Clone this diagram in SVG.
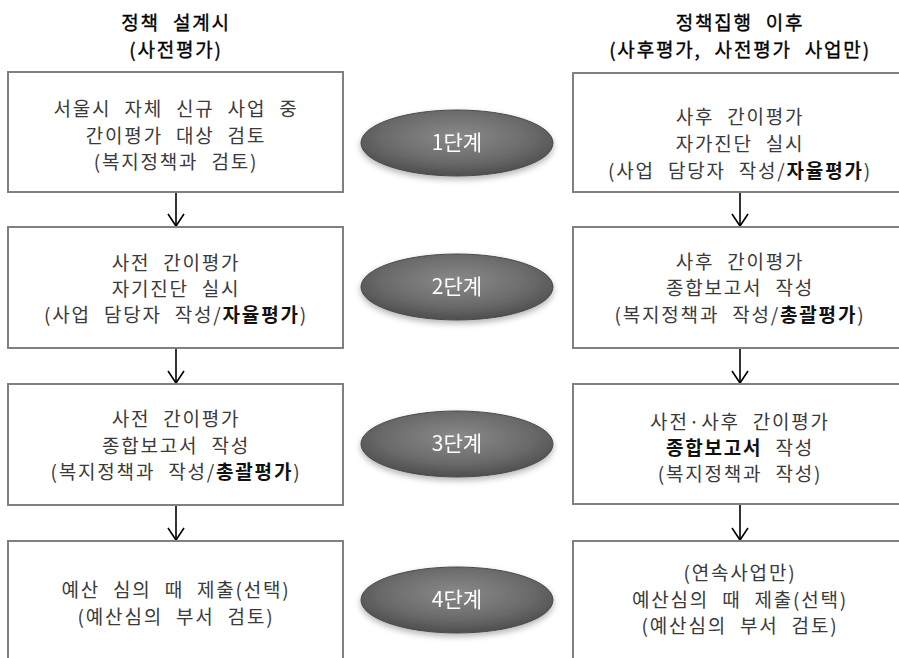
<svg xmlns="http://www.w3.org/2000/svg" width="899" height="658" viewBox="0 0 899 658">
<style>
.box{fill:#fff;stroke:#808080;stroke-width:2}
.t{font-family:"Noto Sans CJK KR","Noto Sans",sans-serif;font-size:19px;fill:#3a3a3a;text-anchor:middle;letter-spacing:1.8px;word-spacing:7px}
.h{font-family:"Noto Sans CJK KR","Noto Sans",sans-serif;font-size:19px;fill:#000;text-anchor:middle;letter-spacing:1.8px;word-spacing:7px;stroke:#000;stroke-width:0.35px}
.b{font-weight:bold;fill:#111}
.st{font-family:"Noto Sans CJK KR","Noto Sans",sans-serif;font-size:21px;fill:#fff;text-anchor:middle}
.el{fill:url(#eg);stroke:#4a4a4a;stroke-width:1}
.conn{stroke:#000;stroke-width:1.6;fill:none;marker-end:url(#ah)}
</style>
<defs>
<radialGradient id="eg" cx="50%" cy="40%" r="60%">
<stop offset="0" stop-color="#8a8a8a"/>
<stop offset="0.65" stop-color="#6a6a6a"/>
<stop offset="1" stop-color="#4e4e4e"/>
</radialGradient>
<marker id="ah" markerUnits="userSpaceOnUse" markerWidth="16" markerHeight="20" viewBox="-14 -10 16 20" refX="0" refY="0" orient="auto">
<path d="M-12,-8 L0,0 L-12,8" fill="none" stroke="#000" stroke-width="1.6"/>
</marker>
<filter id="sh" x="-10%" y="-20%" width="120%" height="150%">
<feGaussianBlur in="SourceAlpha" stdDeviation="3"/>
<feOffset dy="3"/>
<feComponentTransfer><feFuncA type="linear" slope="0.3"/></feComponentTransfer>
<feMerge><feMergeNode/><feMergeNode in="SourceGraphic"/></feMerge>
</filter>
</defs>
<rect width="899" height="658" fill="#fff"/>

<g id="header-left">
<text class="h" x="176" y="30">정책 설계시</text>
<text class="h" x="176" y="57">(사전평가)</text>
</g>
<g id="header-right">
<text class="h" x="740" y="30">정책집행 이후</text>
<text class="h" x="740" y="57">(사후평가, 사전평가 사업만)</text>
</g>

<g id="connectors">
<line class="conn" x1="176" y1="192" x2="176" y2="226"/>
<line class="conn" x1="176" y1="348" x2="176" y2="383"/>
<line class="conn" x1="176" y1="505" x2="176" y2="540"/>
<line class="conn" x1="740" y1="192" x2="740" y2="226"/>
<line class="conn" x1="740" y1="348" x2="740" y2="383"/>
<line class="conn" x1="740" y1="505" x2="740" y2="540"/>
</g>

<g id="L1">
<rect class="box" x="8" y="72" width="335" height="120"/>
<text class="t" x="176" y="116">서울시 자체 신규 사업 중</text>
<text class="t" x="176" y="143">간이평가 대상 검토</text>
<text class="t" x="176" y="169">(복지정책과 검토)</text>
</g>
<g id="L2">
<rect class="box" x="8" y="227" width="335" height="121"/>
<text class="t" x="176" y="270">사전 간이평가</text>
<text class="t" x="176" y="296">자기진단 실시</text>
<text class="t" x="176" y="322">(사업 담당자 작성/<tspan class="b">자율평가</tspan>)</text>
</g>
<g id="L3">
<rect class="box" x="8" y="384" width="335" height="121"/>
<text class="t" x="176" y="426">사전 간이평가</text>
<text class="t" x="176" y="453">종합보고서 작성</text>
<text class="t" x="176" y="479">(복지정책과 작성/<tspan class="b">총괄평가</tspan>)</text>
</g>
<g id="L4">
<rect class="box" x="8" y="541" width="335" height="130"/>
<text class="t" x="176" y="597">예산 심의 때 제출(선택)</text>
<text class="t" x="176" y="624">(예산심의 부서 검토)</text>
</g>

<g id="R1">
<rect class="box" x="573" y="73" width="340" height="119"/>
<text class="t" x="740" y="124">사후 간이평가</text>
<text class="t" x="740" y="151">자가진단 실시</text>
<text class="t" x="740" y="178">(사업 담당자 작성/<tspan class="b">자율평가</tspan>)</text>
</g>
<g id="R2">
<rect class="box" x="573" y="227" width="340" height="121"/>
<text class="t" x="740" y="269">사후 간이평가</text>
<text class="t" x="740" y="295">종합보고서 작성</text>
<text class="t" x="740" y="322">(복지정책과 작성/<tspan class="b">총괄평가</tspan>)</text>
</g>
<g id="R3">
<rect class="box" x="573" y="384" width="340" height="120"/>
<text class="t" x="740" y="429">사전·사후 간이평가</text>
<text class="t" x="740" y="455"><tspan class="b">종합보고서</tspan> 작성</text>
<text class="t" x="740" y="481">(복지정책과 작성)</text>
</g>
<g id="R4">
<rect class="box" x="573" y="541" width="340" height="130"/>
<text class="t" x="740" y="580">(연속사업만)</text>
<text class="t" x="740" y="607">예산심의 때 제출(선택)</text>
<text class="t" x="740" y="633">(예산심의 부서 검토)</text>
</g>

<g id="S1" filter="url(#sh)">
<ellipse class="el" cx="457" cy="143" rx="96" ry="33"/>
<text class="st" x="457" y="150">1단계</text>
</g>
<g id="S2" filter="url(#sh)">
<ellipse class="el" cx="457" cy="287" rx="96" ry="33"/>
<text class="st" x="457" y="294">2단계</text>
</g>
<g id="S3" filter="url(#sh)">
<ellipse class="el" cx="457" cy="444" rx="96" ry="33"/>
<text class="st" x="457" y="451">3단계</text>
</g>
<g id="S4" filter="url(#sh)">
<ellipse class="el" cx="457" cy="600" rx="96" ry="33"/>
<text class="st" x="457" y="607">4단계</text>
</g>
</svg>
